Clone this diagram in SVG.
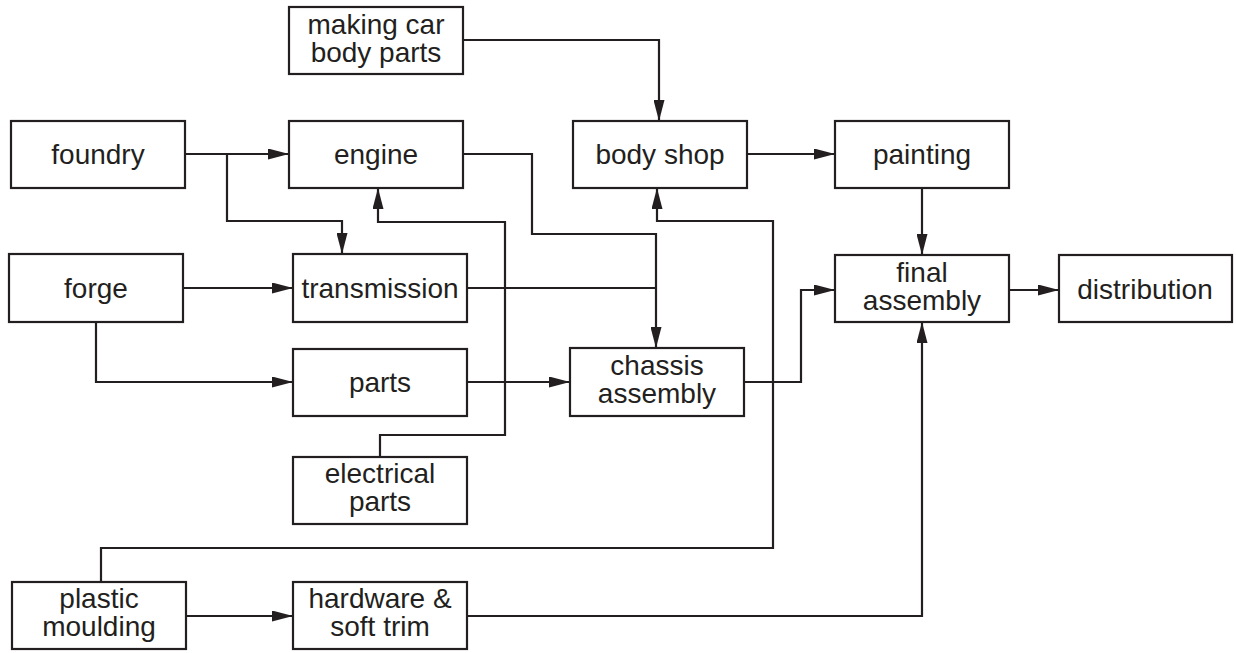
<svg xmlns="http://www.w3.org/2000/svg" width="1236" height="653" viewBox="0 0 1236 653">
<defs>
<style>
.box{fill:#fff;stroke:#231f20;stroke-width:2.2}
.lbl{font-family:"Liberation Sans",Arial,sans-serif;font-size:28px;fill:#231f20;text-anchor:middle}
.c{fill:none;stroke:#231f20;stroke-width:2.2}
.a{marker-end:url(#ah)}
</style>
<marker id="ah" markerUnits="userSpaceOnUse" markerWidth="21" markerHeight="11" refX="21" refY="5.5" orient="auto" viewBox="0 0 21 11">
<path d="M0,0 L21,5.5 L0,11 z" fill="#231f20"/>
</marker>
</defs>
<rect width="1236" height="653" fill="#fff"/>
<g id="connectors">
<path class="c a" d="M185,154 H289"/>
<path class="c a" d="M227,154 V221 H342 V254"/>
<path class="c a" d="M463,40 H659 V121"/>
<path class="c a" d="M463,154 H532 V234 H656 V348"/>
<path class="c" d="M467,288 H656"/>
<path class="c a" d="M747,154 H835"/>
<path class="c a" d="M922,188 V255"/>
<path class="c a" d="M183,288 H293"/>
<path class="c a" d="M96,322 V382 H293"/>
<path class="c a" d="M467,382 H570"/>
<path class="c a" d="M744,382 H801 V290 H835"/>
<path class="c a" d="M1009,290 H1059"/>
<path class="c a" d="M380,457 V435 H505 V222 H378 V188"/>
<path class="c a" d="M101,582 V548 H773 V221 H657 V188"/>
<path class="c a" d="M186,616 H293"/>
<path class="c a" d="M467,616 H922 V322"/>
</g>
<g id="making"><rect class="box" x="289" y="7" width="174" height="67"/><text class="lbl" x="376" y="34">making car</text><text class="lbl" x="376" y="62">body parts</text></g>
<g id="foundry"><rect class="box" x="11" y="121" width="174" height="67"/><text class="lbl" x="98" y="164">foundry</text></g>
<g id="engine"><rect class="box" x="289" y="121" width="174" height="67"/><text class="lbl" x="376" y="164">engine</text></g>
<g id="bodyshop"><rect class="box" x="573" y="121" width="174" height="67"/><text class="lbl" x="660" y="164">body shop</text></g>
<g id="painting"><rect class="box" x="835" y="121" width="174" height="67"/><text class="lbl" x="922" y="164">painting</text></g>
<g id="forge"><rect class="box" x="9" y="254" width="174" height="68"/><text class="lbl" x="96" y="298">forge</text></g>
<g id="transmission"><rect class="box" x="293" y="254" width="174" height="68"/><text class="lbl" x="380" y="298">transmission</text></g>
<g id="final"><rect class="box" x="835" y="255" width="174" height="67"/><text class="lbl" x="922" y="282">final</text><text class="lbl" x="922" y="310">assembly</text></g>
<g id="distribution"><rect class="box" x="1059" y="255" width="173" height="67"/><text class="lbl" x="1145" y="299">distribution</text></g>
<g id="parts"><rect class="box" x="293" y="349" width="174" height="67"/><text class="lbl" x="380" y="392">parts</text></g>
<g id="chassis"><rect class="box" x="570" y="348" width="174" height="68"/><text class="lbl" x="657" y="375">chassis</text><text class="lbl" x="657" y="403">assembly</text></g>
<g id="electrical"><rect class="box" x="293" y="457" width="174" height="67"/><text class="lbl" x="380" y="483">electrical</text><text class="lbl" x="380" y="511">parts</text></g>
<g id="plastic"><rect class="box" x="12" y="582" width="174" height="67"/><text class="lbl" x="99" y="608">plastic</text><text class="lbl" x="99" y="636">moulding</text></g>
<g id="hardware"><rect class="box" x="293" y="582" width="174" height="67"/><text class="lbl" x="380" y="608">hardware &amp;</text><text class="lbl" x="380" y="636">soft trim</text></g>
</svg>
